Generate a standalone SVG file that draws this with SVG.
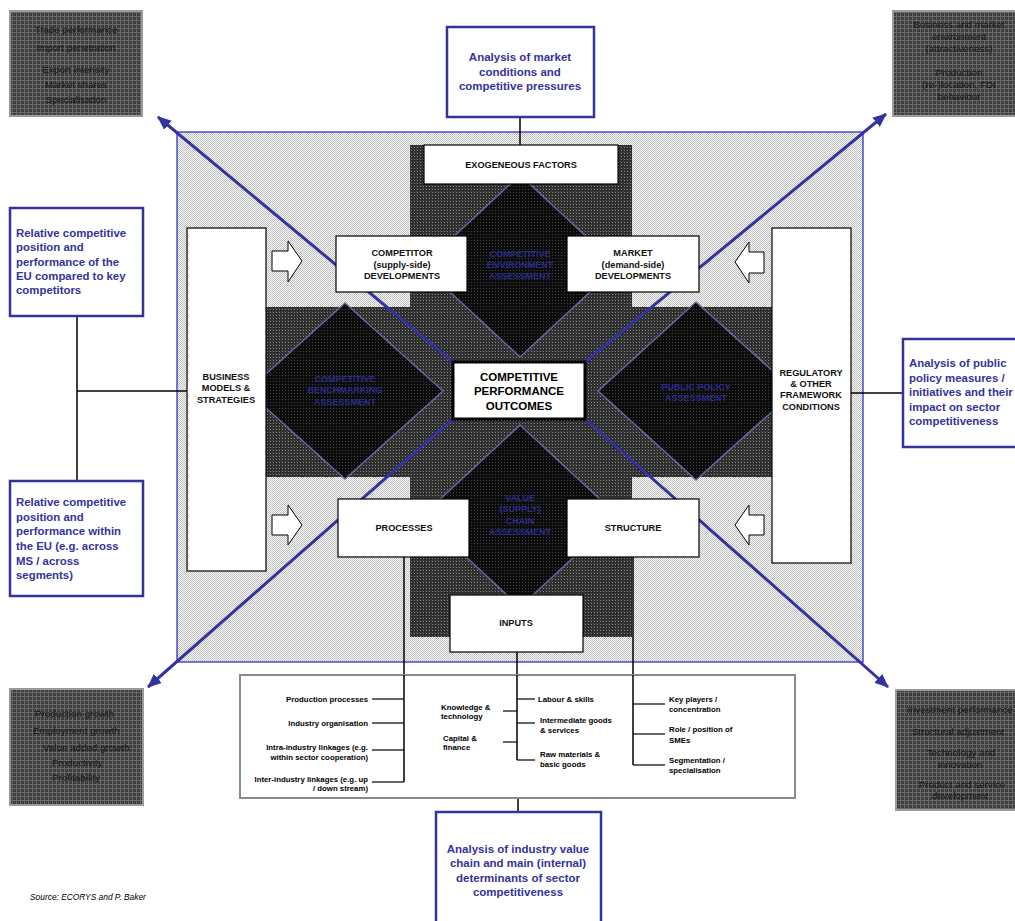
<svg xmlns="http://www.w3.org/2000/svg" width="1015" height="921" viewBox="0 0 1015 921">
<defs>
<pattern id="pLight" width="2" height="2" patternUnits="userSpaceOnUse">
<rect width="2" height="2" fill="#f6f6f6"/>
<rect width="1" height="1" fill="#bdbdbd"/>
<rect x="1" y="1" width="1" height="1" fill="#c8c8c8"/>
</pattern>
<pattern id="pBand" width="3" height="3" patternUnits="userSpaceOnUse">
<rect width="3" height="3" fill="#2c2c2c"/>
<rect width="1" height="1" fill="#8c8c8c"/>
<rect x="2" y="2" width="1" height="1" fill="#4a4a4a"/>
</pattern>
<pattern id="pDiamond" width="3" height="3" patternUnits="userSpaceOnUse">
<rect width="3" height="3" fill="#0c0c0c"/>
<rect width="1" height="1" fill="#3e3e3e"/>
</pattern>
<pattern id="pCorner" width="4" height="4" patternUnits="userSpaceOnUse">
<rect width="4" height="4" fill="#3a3a3a"/>
<rect width="4" height="1" fill="#6a6a6a"/>
<rect width="1" height="4" fill="#6a6a6a"/>
<rect x="2" y="2" width="1" height="1" fill="#555"/>
</pattern>
<marker id="ah" viewBox="0 0 14 12" refX="13" refY="6" markerWidth="14" markerHeight="12" markerUnits="userSpaceOnUse" orient="auto">
<path d="M0,0 L14,6 L0,12 z" fill="#3333a0"/>
</marker>
<style>
.box{fill:#fff;stroke:#000;stroke-width:1.2}
.blue{fill:#fff;stroke:#333399;stroke-width:2.5}
.corner{fill:url(#pCorner);stroke:#9a9a9a;stroke-width:2}
.diam{fill:url(#pDiamond);stroke:#66669e;stroke-width:1.5}
.diag{stroke:#3333a0;stroke-width:3;fill:none}
.con{stroke:#000;stroke-width:1.5;fill:none}
.barrow{fill:#fff;stroke:#000;stroke-width:1}
text{font-family:"Liberation Sans",Arial,sans-serif}
.bt{font-size:9.2px;font-weight:bold;fill:#111;text-anchor:middle}
.ct{font-size:11.5px;font-weight:bold;fill:#000;text-anchor:middle}
.dt{font-size:9px;font-weight:bold;fill:#2b2b8c;text-anchor:middle}
.bl{font-size:11.4px;font-weight:bold;fill:#333399}
.blc{font-size:11.5px;font-weight:bold;fill:#333399;text-anchor:middle}
.cn{font-size:9.8px;fill:#141414;text-anchor:middle}
.ls{font-size:7.8px;font-weight:bold;fill:#000}
.src{font-size:8.4px;font-style:italic;fill:#000}
</style>
</defs>
<rect width="1015" height="921" fill="#fff"/>

<g id="framework">
<rect x="177" y="132" width="686" height="530" fill="url(#pLight)"/>
<rect x="410" y="145" width="222" height="492" fill="url(#pBand)"/>
<rect x="265" y="307" width="507" height="170" fill="url(#pBand)"/>
<rect x="177" y="132" width="686" height="530" fill="none" stroke="#4a4ad0" stroke-width="1.5"/>
</g>

<g id="diamond-environment">
<polygon class="diam" points="520,175 618,266 520,357 422,266"/>
<text class="dt" x="520" y="257">COMPETITIVE</text>
<text class="dt" x="520" y="268">ENVIRONMENT</text>
<text class="dt" x="520" y="279">ASSESSMENT</text>
</g>
<g id="diamond-value-chain">
<polygon class="diam" points="520,425 618,516 520,607 422,516"/>
<text class="dt" x="520" y="501">VALUE</text>
<text class="dt" x="520" y="512">(SUPPLY)</text>
<text class="dt" x="520" y="524">CHAIN</text>
<text class="dt" x="520" y="535">ASSESSMENT</text>
</g>
<g id="diamond-benchmarking">
<polygon class="diam" points="345,303 443,391 345,479 247,391"/>
<text class="dt" x="345" y="382">COMPETITIVE</text>
<text class="dt" x="345" y="393">BENCHMARKING</text>
<text class="dt" x="345" y="405">ASSESSMENT</text>
</g>
<g id="diamond-public-policy">
<polygon class="diam" points="696,302 795,391 696,480 598,391"/>
<text class="dt" x="696" y="390">PUBLIC POLICY</text>
<text class="dt" x="696" y="401">ASSESSMENT</text>
</g>

<g id="connectors">
<line class="diag" x1="453" y1="362" x2="158" y2="117" marker-end="url(#ah)"/>
<line class="diag" x1="585" y1="362" x2="886" y2="114" marker-end="url(#ah)"/>
<line class="diag" x1="453" y1="419" x2="148" y2="687" marker-end="url(#ah)"/>
<line class="diag" x1="585" y1="419" x2="888" y2="687" marker-end="url(#ah)"/>
<line class="con" x1="520" y1="117" x2="520" y2="145"/>
<polyline class="con" points="187,391 77,391"/>
<line class="con" x1="77" y1="316" x2="77" y2="481"/>
<line class="con" x1="851" y1="393" x2="903" y2="393"/>
<line class="con" x1="404" y1="557" x2="404" y2="782"/>
<line class="con" x1="517" y1="652" x2="517" y2="760"/>
<line class="con" x1="633" y1="557" x2="633" y2="765"/>
<line class="con" x1="518" y1="798" x2="518" y2="812"/>
</g>

<g id="arrows">
<polygon class="barrow" points="272,251 288,251 288,241 302,261 288,282 288,271 272,271"/>
<polygon class="barrow" points="272,515 288,515 288,505 302,525 288,545 288,535 272,535"/>
<polygon class="barrow" points="764,252 749,252 749,242 735,262 749,283 749,273 764,273"/>
<polygon class="barrow" points="764,515 749,515 749,505 735,525 749,545 749,535 764,535"/>
</g>

<g id="exogeneous">
<rect class="box" x="424" y="145" width="194" height="39"/>
<text class="bt" x="521" y="168">EXOGENEOUS FACTORS</text>
</g>
<g id="competitor">
<rect class="box" x="336" y="236" width="131" height="56"/>
<text class="bt" x="402" y="256">COMPETITOR</text>
<text class="bt" x="402" y="268">(supply-side)</text>
<text class="bt" x="402" y="279">DEVELOPMENTS</text>
</g>
<g id="market">
<rect class="box" x="567" y="236" width="132" height="56"/>
<text class="bt" x="633" y="256">MARKET</text>
<text class="bt" x="633" y="268">(demand-side)</text>
<text class="bt" x="633" y="279">DEVELOPMENTS</text>
</g>
<g id="outcomes">
<rect x="453" y="362" width="132" height="57" fill="#fff" stroke="#000" stroke-width="3"/>
<text class="ct" x="519" y="381">COMPETITIVE</text>
<text class="ct" x="519" y="395">PERFORMANCE</text>
<text class="ct" x="519" y="410">OUTCOMES</text>
</g>
<g id="processes">
<rect class="box" x="338" y="499" width="131" height="58"/>
<text class="bt" x="404" y="531">PROCESSES</text>
</g>
<g id="structure">
<rect class="box" x="567" y="499" width="132" height="58"/>
<text class="bt" x="633" y="531">STRUCTURE</text>
</g>
<g id="inputs">
<rect class="box" x="450" y="595" width="133" height="57"/>
<text class="bt" x="516" y="626">INPUTS</text>
</g>
<g id="business-models">
<rect class="box" x="187" y="228" width="79" height="343"/>
<text class="bt" x="226" y="380">BUSINESS</text>
<text class="bt" x="226" y="391">MODELS &amp;</text>
<text class="bt" x="226" y="403">STRATEGIES</text>
</g>
<g id="regulatory">
<rect class="box" x="772" y="228" width="79" height="335"/>
<text class="bt" x="811" y="376">REGULATORY</text>
<text class="bt" x="811" y="387">&amp; OTHER</text>
<text class="bt" x="811" y="398">FRAMEWORK</text>
<text class="bt" x="811" y="410">CONDITIONS</text>
</g>

<g id="blue-top">
<rect class="blue" x="447" y="27" width="147" height="90"/>
<text class="blc" x="520" y="61">Analysis of market</text>
<text class="blc" x="520" y="76">conditions and</text>
<text class="blc" x="520" y="90">competitive pressures</text>
</g>
<g id="blue-left-1">
<rect class="blue" x="10" y="208" width="133" height="108"/>
<text class="bl" x="16" y="237">Relative competitive</text>
<text class="bl" x="16" y="251">position and</text>
<text class="bl" x="16" y="266">performance of the</text>
<text class="bl" x="16" y="280">EU compared to key</text>
<text class="bl" x="16" y="294">competitors</text>
</g>
<g id="blue-left-2">
<rect class="blue" x="10" y="481" width="133" height="115"/>
<text class="bl" x="16" y="506">Relative competitive</text>
<text class="bl" x="16" y="521">position and</text>
<text class="bl" x="16" y="535">performance within</text>
<text class="bl" x="16" y="550">the EU (e.g. across</text>
<text class="bl" x="16" y="565">MS / across</text>
<text class="bl" x="16" y="579">segments)</text>
</g>
<g id="blue-right">
<rect class="blue" x="903" y="339" width="130" height="108"/>
<text class="bl" x="909" y="367">Analysis of public</text>
<text class="bl" x="909" y="382">policy measures /</text>
<text class="bl" x="909" y="396">initiatives and their</text>
<text class="bl" x="909" y="411">impact on sector</text>
<text class="bl" x="909" y="425">competitiveness</text>
</g>
<g id="blue-bottom">
<rect class="blue" x="436" y="812" width="165" height="120"/>
<text class="blc" x="518" y="853">Analysis of industry value</text>
<text class="blc" x="518" y="867">chain and main (internal)</text>
<text class="blc" x="518" y="882">determinants of sector</text>
<text class="blc" x="518" y="896">competitiveness</text>
</g>

<g id="corner-tl">
<rect class="corner" x="10" y="11" width="132" height="105"/>
<text class="cn" x="76" y="33">Trade performance</text>
<text class="cn" x="76" y="51">Import penetration</text>
<text class="cn" x="76" y="73">Export intensity</text>
<text class="cn" x="76" y="88">Market shares</text>
<text class="cn" x="76" y="103">Specialisation</text>
</g>
<g id="corner-tr">
<rect class="corner" x="893" y="11" width="132" height="105"/>
<text class="cn" x="959" y="28">Business and market</text>
<text class="cn" x="959" y="40">environment</text>
<text class="cn" x="959" y="52">(attractiveness)</text>
<text class="cn" x="959" y="76">Production</text>
<text class="cn" x="959" y="88">(re-)location, FDI</text>
<text class="cn" x="959" y="100">behaviour</text>
</g>
<g id="corner-bl">
<rect class="corner" x="10" y="689" width="133" height="116"/>
<text class="cn" x="35" y="717" style="text-anchor:start">Production growth</text>
<text class="cn" x="33" y="734" style="text-anchor:start">Employment growth</text>
<text class="cn" x="43" y="751" style="text-anchor:start">Value added growth</text>
<text class="cn" x="52" y="766" style="text-anchor:start">Productivity</text>
<text class="cn" x="52" y="781" style="text-anchor:start">Profitability</text>
</g>
<g id="corner-br">
<rect class="corner" x="896" y="690" width="132" height="120"/>
<text class="cn" x="960" y="713">Investment performance</text>
<text class="cn" x="958" y="735">Structural adjustment</text>
<text class="cn" x="961" y="756">Technology and</text>
<text class="cn" x="960" y="768">innovation</text>
<text class="cn" x="962" y="788">Product and service</text>
<text class="cn" x="960" y="799">development</text>
</g>

<g id="determinants">
<rect x="240" y="675" width="555" height="123" fill="#fff" stroke="#8a8a8a" stroke-width="2"/>
<line class="con" x1="404" y1="675" x2="404" y2="782"/>
<line class="con" x1="517" y1="675" x2="517" y2="760"/>
<line class="con" x1="633" y1="675" x2="633" y2="765"/>
<g class="con" style="stroke-width:1.2">
<line x1="372" y1="699" x2="404" y2="699"/>
<line x1="372" y1="723" x2="404" y2="723"/>
<line x1="372" y1="750" x2="404" y2="750"/>
<line x1="372" y1="782" x2="404" y2="782"/>
<line x1="517" y1="699" x2="535" y2="699"/>
<line x1="517" y1="723" x2="535" y2="723"/>
<line x1="517" y1="760" x2="535" y2="760"/>
<line x1="503" y1="711" x2="517" y2="711"/>
<line x1="503" y1="742" x2="517" y2="742"/>
<line x1="633" y1="704" x2="665" y2="704"/>
<line x1="633" y1="734" x2="665" y2="734"/>
<line x1="633" y1="765" x2="665" y2="765"/>
</g>
<text class="ls" x="368" y="702" text-anchor="end">Production processes</text>
<text class="ls" x="368" y="726" text-anchor="end">Industry organisation</text>
<text class="ls" x="368" y="750" text-anchor="end">Intra-industry linkages (e.g.</text>
<text class="ls" x="368" y="760" text-anchor="end">within sector cooperation)</text>
<text class="ls" x="368" y="782" text-anchor="end">Inter-industry linkages (e.g. up</text>
<text class="ls" x="368" y="791" text-anchor="end">/ down stream)</text>
<text class="ls" x="441" y="710">Knowledge &amp;</text>
<text class="ls" x="441" y="719">technology</text>
<text class="ls" x="443" y="741">Capital &amp;</text>
<text class="ls" x="443" y="750">finance</text>
<text class="ls" x="538" y="702">Labour &amp; skills</text>
<text class="ls" x="540" y="723">Intermediate goods</text>
<text class="ls" x="540" y="733">&amp; services</text>
<text class="ls" x="540" y="757">Raw materials &amp;</text>
<text class="ls" x="540" y="767">basic goods</text>
<text class="ls" x="669" y="702">Key players /</text>
<text class="ls" x="669" y="712">concentration</text>
<text class="ls" x="669" y="732">Role / position of</text>
<text class="ls" x="669" y="743">SMEs</text>
<text class="ls" x="669" y="763">Segmentation  /</text>
<text class="ls" x="669" y="773">specialisation</text>
</g>

<text class="src" x="30" y="900">Source: ECORYS and P. Baker</text>
</svg>
